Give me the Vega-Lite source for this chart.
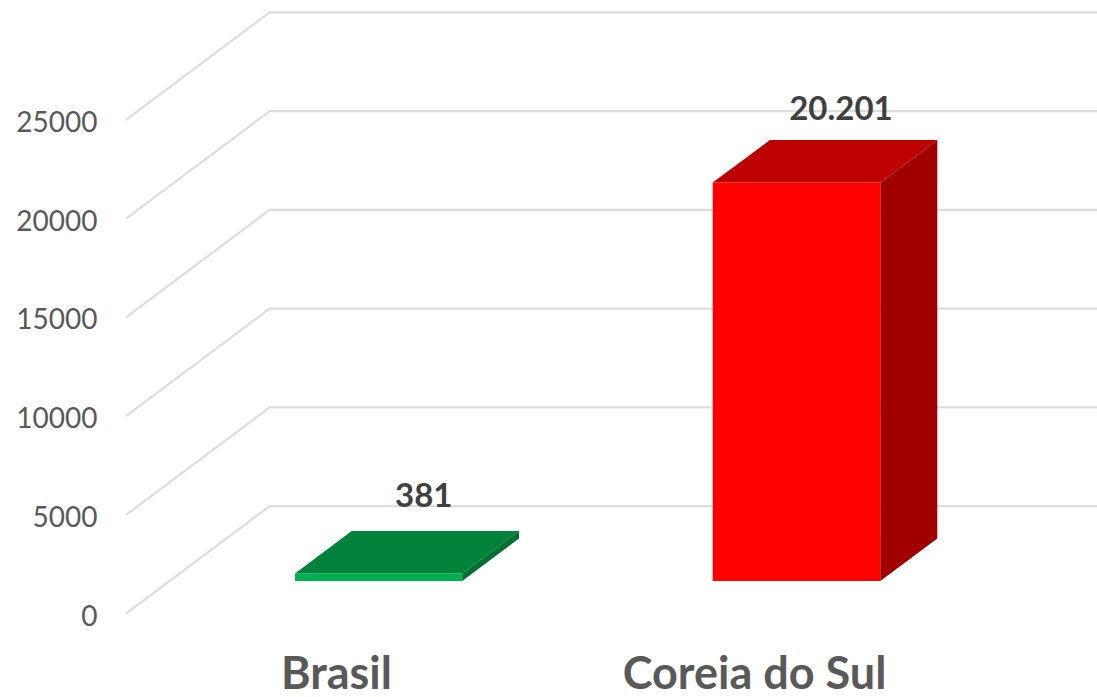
{
"$schema":"https://vega.github.io/schema/vega-lite/v6.json",
"width":1097,"height":697,"padding":0,"autosize":{"type":"none"},
"background":"white",
"config":{"view":{"stroke":null}},
"datasets":{
"grid":[
{"level":0,"pos":0.4976,"value":0},{"level":0,"pos":0.8409,"value":5443},{"level":0,"pos":2.83,"value":5443},
{"level":5000,"pos":0.4976,"value":5000},{"level":5000,"pos":0.8409,"value":10443},{"level":5000,"pos":2.83,"value":10443},
{"level":10000,"pos":0.4976,"value":10000},{"level":10000,"pos":0.8409,"value":15443},{"level":10000,"pos":2.83,"value":15443},
{"level":15000,"pos":0.4976,"value":15000},{"level":15000,"pos":0.8409,"value":20443},{"level":15000,"pos":2.83,"value":20443},
{"level":20000,"pos":0.4976,"value":20000},{"level":20000,"pos":0.8409,"value":25443},{"level":20000,"pos":2.83,"value":25443},
{"level":25000,"pos":0.4976,"value":25000},{"level":25000,"pos":0.8409,"value":30443},{"level":25000,"pos":2.83,"value":30443}
],
"faces":[
{"face":"Brasil frente","pos":0.902,"value":1656,"value2":2037},
{"face":"Brasil frente","pos":1.302,"value":1656,"value2":2037},
{"face":"Brasil topo","pos":0.902,"value":2037,"value2":2037},
{"face":"Brasil topo","pos":1.0376,"value":2037,"value2":4187},
{"face":"Brasil topo","pos":1.302,"value":2037,"value2":4187},
{"face":"Brasil topo","pos":1.4378,"value":4187,"value2":4187},
{"face":"Brasil lado","pos":1.302,"value":1656,"value2":2037},
{"face":"Brasil lado","pos":1.4378,"value":3806,"value2":4187},
{"face":"Coreia frente","pos":1.9012,"value":1656,"value2":21830},
{"face":"Coreia frente","pos":2.3022,"value":1656,"value2":21830},
{"face":"Coreia topo","pos":1.9012,"value":21830,"value2":21830},
{"face":"Coreia topo","pos":2.0383,"value":21830,"value2":23980},
{"face":"Coreia topo","pos":2.3022,"value":21830,"value2":23980},
{"face":"Coreia topo","pos":2.4385,"value":23980,"value2":23980},
{"face":"Coreia lado","pos":2.3022,"value":1656,"value2":21830},
{"face":"Coreia lado","pos":2.4385,"value":3806,"value2":23980}
],
"labels":[
{"label":"381","pos":1.2098,"value":5930},
{"label":"20.201","pos":2.208,"value":25490}
]
},
"encoding":{
"x":{"field":"pos","type":"quantitative","scale":{"domain":[0.19617,2.82057],"nice":false,"zero":false},
"axis":{"values":[1,2],"labelExpr":"datum.value == 1 ? 'Brasil' : 'Coreia do Sul'","title":null,"domain":false,"ticks":false,"grid":false,"offset":0,"labelPadding":0,"labelLimit":600,"labelFont":"Lato","labelFontWeight":"bold","labelFontSize":45,"labelColor":"#595959","labelBaseline":"bottom","labelOverlap":false,"labelFlush":false}},
"y":{"field":"value","type":"quantitative","scale":{"domain":[-4218,31073],"nice":false,"zero":false},
"axis":{"values":[0,5000,10000,15000,20000,25000],"format":"d","title":null,"domain":false,"ticks":false,"grid":false,"offset":-97,"labelPadding":0,"labelOffset":3.5,"labelFont":"Lato","labelFontSize":28,"labelColor":"#595959","labelOverlap":false,"labelFlush":false}}
},
"layer":[
{"data":{"name":"grid"},"mark":{"type":"line","stroke":"#DDDDDD","strokeWidth":2.2,"clip":true},"encoding":{"detail":{"field":"level"},"order":{"field":"pos"}}},
{"data":{"name":"faces"},"mark":{"type":"area","opacity":1,"interpolate":"linear"},"encoding":{"y2":{"field":"value2"},"color":{"field":"face","type":"nominal","legend":null,"scale":{"domain":["Brasil frente","Brasil topo","Brasil lado","Coreia frente","Coreia topo","Coreia lado"],"range":["#00B050","#00823A","#006F32","#FF0000","#BD0000","#A00000"]}}}},
{"data":{"name":"labels"},"mark":{"type":"text","font":"Lato","fontWeight":"bold","fontSize":33,"color":"#404040","baseline":"middle","align":"center"},"encoding":{"text":{"field":"label"}}}
]
}
